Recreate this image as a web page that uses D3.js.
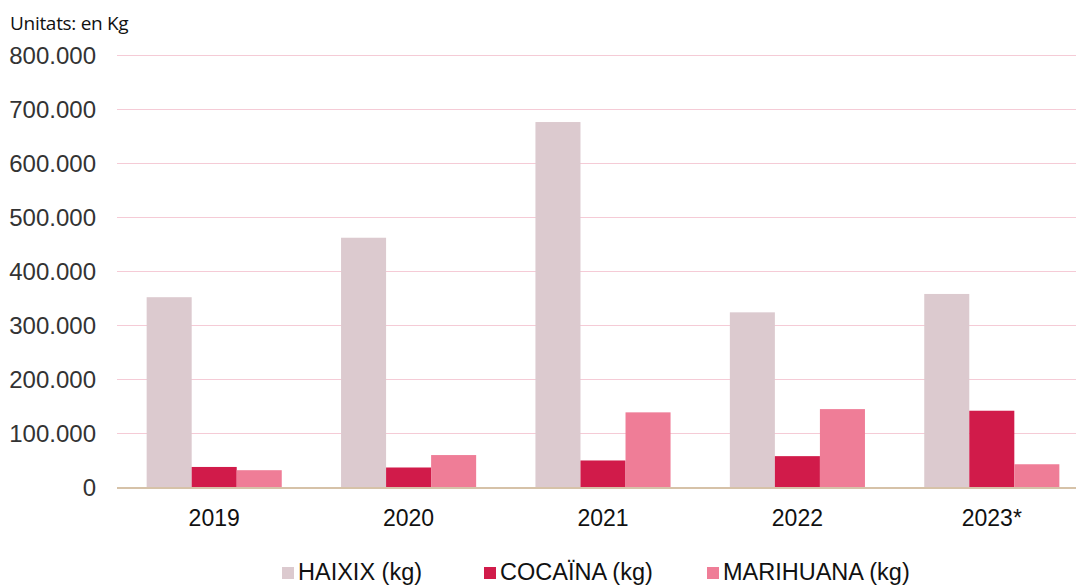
<!DOCTYPE html>
<html>
<head>
<meta charset="utf-8">
<script src="https://cdn.jsdelivr.net/npm/d3@7"></script>
<style>
  body { margin: 0; background: #fff; }
  svg { display: block; }
</style>
</head>
<body>
<script>
// data
var years = ["2019", "2020", "2021", "2022", "2023*"];
var seriesNames = ["HAIXIX (kg)", "COCAÏNA (kg)", "MARIHUANA (kg)"];
var haixix = [352000, 462000, 676000, 324000, 358000];
var cocaina = [38000, 37000, 50000, 58000, 142000];
var marihuana = [32000, 60000, 139000, 145000, 43000];
var yTicks = [0, 100000, 200000, 300000, 400000, 500000, 600000, 700000, 800000];

var colors = ["#dccacf", "#d11b4a", "#ef7d97"];
var width = 1076, height = 587;

var rows = years.map(function(y, i) {
    return { year: y, values: [haixix[i], cocaina[i], marihuana[i]] };
});

var svg = d3.select("body").append("svg")
    .attr("width", width)
    .attr("height", height);

var x0 = d3.scaleBand()
    .domain(years)
    .range([117, 1089])
    .paddingInner(0.305)
    .paddingOuter(0.1525);

var x1 = d3.scaleBand()
    .domain([0, 1, 2])
    .range([0, x0.bandwidth()]);

var y = d3.scaleLinear()
    .domain([0, 800000])
    .range([487.5, 55]);

var fmt = function(v) {
    return d3.format(",")(v).replace(/,/g, ".");
};

// grid lines
svg.append("g").selectAll("line")
    .data(yTicks.slice(1))
    .enter().append("line")
    .attr("x1", 117).attr("x2", width)
    .attr("y1", function(d) { return Math.round(y(d)) + 0.5; })
    .attr("y2", function(d) { return Math.round(y(d)) + 0.5; })
    .attr("stroke", "#f5cbd6")
    .attr("stroke-width", 1);

// y tick labels
svg.append("g").selectAll("text")
    .data(yTicks)
    .enter().append("text")
    .attr("x", 96)
    .attr("y", function(d) { return y(d); })
    .attr("dy", "0.36em")
    .attr("text-anchor", "end")
    .attr("font-family", "Liberation Sans, Arial, sans-serif")
    .attr("font-size", 24)
    .attr("fill", "#333")
    .text(fmt);

// bars
var group = svg.append("g").selectAll("g")
    .data(rows)
    .enter().append("g")
    .attr("transform", function(d) { return "translate(" + x0(d.year) + ",0)"; });

group.selectAll("rect")
    .data(function(d) { return d.values; })
    .enter().append("rect")
    .attr("x", function(d, i) { return x1(i); })
    .attr("y", function(d) { return y(d); })
    .attr("width", x1.bandwidth())
    .attr("height", function(d) { return y(0) - y(d); })
    .attr("fill", function(d, i) { return colors[i]; });

// baseline
svg.append("line")
    .attr("x1", 117).attr("x2", width)
    .attr("y1", 488).attr("y2", 488)
    .attr("stroke", "#d6c2a8")
    .attr("stroke-width", 2);

// x labels
svg.append("g").selectAll("text")
    .data(years)
    .enter().append("text")
    .attr("x", function(d) { return x0(d) + x0.bandwidth() / 2; })
    .attr("y", 526)
    .attr("text-anchor", "middle")
    .attr("font-family", "Liberation Sans, Arial, sans-serif")
    .attr("font-size", 23)
    .attr("fill", "#111")
    .text(function(d) { return d; });

// units title
svg.append("text")
    .attr("x", 10)
    .attr("y", 30)
    .attr("font-family", "Open Sans, sans-serif")
    .attr("font-size", 19)
    .attr("letter-spacing", "-0.3")
    .attr("fill", "#111")
    .text("Unitats: en Kg");

// legend
var legendX = [282, 484, 707];
var legend = svg.append("g").selectAll("g")
    .data(seriesNames)
    .enter().append("g")
    .attr("transform", function(d, i) { return "translate(" + legendX[i] + ",567)"; });

legend.append("rect")
    .attr("width", 12).attr("height", 12)
    .attr("fill", function(d, i) { return colors[i]; });

legend.append("text")
    .attr("x", 16)
    .attr("y", 13)
    .attr("font-family", "Liberation Sans, Arial, sans-serif")
    .attr("font-size", 23.5)
    .attr("fill", "#111")
    .text(function(d) { return d; });
</script>
</body>
</html>
